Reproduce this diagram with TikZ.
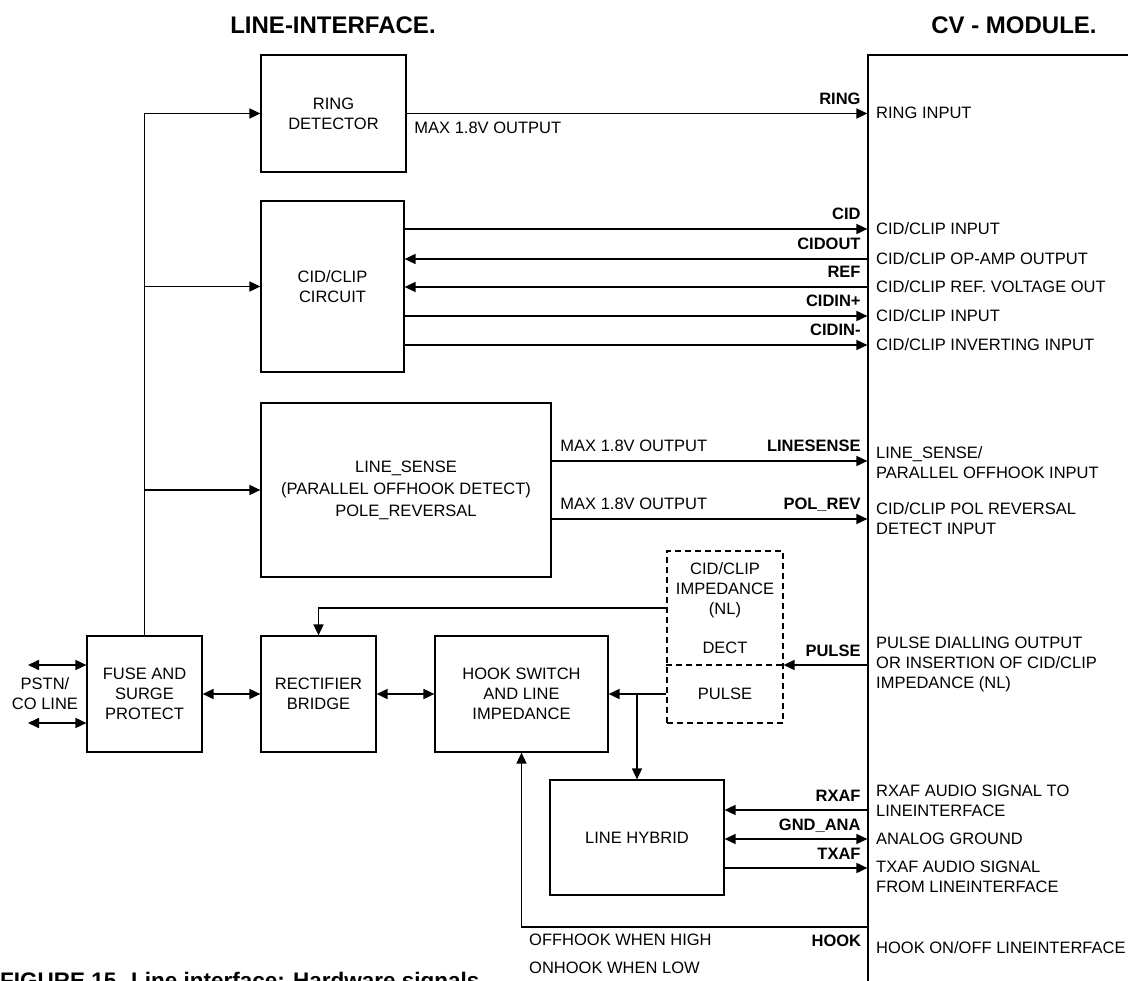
\documentclass[tikz,border=0pt]{standalone}
\usepackage{fontspec}
\setmainfont{Liberation Sans}
\usetikzlibrary{arrows.meta}
\newcommand\txtsz{\fontsize{16.5}{20}\selectfont}

\begin{document}
\begin{tikzpicture}[x=1pt, y=-1pt, font=\txtsz,
  >={Triangle[length=11pt,width=10pt]},
  box/.style={draw, line width=1.2pt, align=center, inner sep=0pt},
  dbox/.style={draw, line width=1.2pt, dash pattern=on 6pt off 4pt},
  wire/.style={line width=1.7pt},
  sig/.style={font=\txtsz\bfseries, anchor=base east, inner sep=0pt, xshift=-6pt, yshift=9pt},
  note/.style={anchor=west, align=left, inner sep=0pt},
  title/.style={font=\fontsize{24}{28}\selectfont\bfseries}]
  \useasboundingbox (0,0) rectangle (1128,981);

  \node[title] (tli) at (333,25) {LINE-INTERFACE.};
  \node[title] (tcv) at (1014,25) {CV - MODULE.};

  \node[box, minimum width=272pt, minimum height=940pt] (cv) at (1004,525) {};

  \node[box, minimum width=145pt, minimum height=117pt] (ring) at (333.5,113.5) {RING\\DETECTOR};
  \node[box, minimum width=143pt, minimum height=171pt] (cid) at (332.5,286.5) {CID/CLIP\\CIRCUIT};
  \node[box, minimum width=290pt, minimum height=174pt, font=\fontsize{16.5}{22}\selectfont] (ls) at (406,490) {LINE\_SENSE\\(PARALLEL OFFHOOK DETECT)\\POLE\_REVERSAL};
  \node[box, minimum width=115pt, minimum height=116pt] (fuse) at (144.5,694) {FUSE AND\\SURGE\\PROTECT};
  \node[box, minimum width=115pt, minimum height=116pt] (rect) at (318.5,694) {RECTIFIER\\BRIDGE};
  \node[box, minimum width=173pt, minimum height=116pt] (hook) at (521.5,694) {HOOK SWITCH\\AND LINE\\IMPEDANCE};
  \node[box, minimum width=174pt, minimum height=115pt] (hyb) at (637,837.5) {LINE HYBRID};

  \node[dbox, minimum width=116pt, minimum height=172pt] (imp) at (725,637) {};
  \node[align=center, inner sep=0pt] (dect) at (725,608) {CID/CLIP\\IMPEDANCE\\(NL)\\[19pt]DECT};
  \node[inner sep=0pt] (pls) at (725,694) {PULSE};
  \coordinate (div) at (725,665);
  \draw[dbox] (imp.west |- div) -- (imp.east |- div);

  \node[align=center, inner sep=0pt] (pstn) at (45,694) {PSTN/\\CO LINE};
  \coordinate (p1) at (28,665);
  \coordinate (p2) at (28,723);
  \coordinate (hk) at (868,927);

  % feed from the protection
  \draw[wire,->] (fuse.north) |- (ring.west);
  \draw[wire,->] (fuse.north |- cid.west) -- (cid.west);
  \draw[wire,->] (fuse.north |- ls.west) -- (ls.west);

  \draw[wire,<->] (p1) -- (fuse.west |- p1);
  \draw[wire,<->] (p2) -- (fuse.west |- p2);
  \draw[wire,<->] (fuse.east) -- (rect.west);
  \draw[wire,<->] (rect.east) -- (hook.west);

  % signals to the module
  \draw[wire,->] (ring.east) -- (ring.east -| cv.west) node[sig] {RING}
    node[pos=0, anchor=base west, inner sep=0pt, xshift=7pt, yshift=-20pt] {MAX 1.8V OUTPUT};
  \draw[wire,->] (cid.east |- 0,229) -- (cv.west |- 0,229) node[sig] {CID};
  \draw[wire,<-] (cid.east |- 0,259) -- (cv.west |- 0,259) node[sig] {CIDOUT};
  \draw[wire,<-] (cid.east |- 0,287) -- (cv.west |- 0,287) node[sig] {REF};
  \draw[wire,->] (cid.east |- 0,316) -- (cv.west |- 0,316) node[sig] {CIDIN+};
  \draw[wire,->] (cid.east |- 0,345) -- (cv.west |- 0,345) node[sig] {CIDIN-};
  \draw[wire,->] (ls.east |- 0,461) -- (cv.west |- 0,461) node[sig] {LINESENSE}
    node[pos=0, anchor=base west, inner sep=0pt, xshift=8pt, yshift=9pt] {MAX 1.8V OUTPUT};
  \draw[wire,->] (ls.east |- 0,519) -- (cv.west |- 0,519) node[sig] {POL\_REV}
    node[pos=0, anchor=base west, inner sep=0pt, xshift=8pt, yshift=9pt] {MAX 1.8V OUTPUT};
  \draw[wire,<-] (imp.east |- div) -- (cv.west |- div) node[sig] {PULSE};
  \draw[wire,->] (imp.west |- dect) -| (rect.north);
  \draw[wire,->] (imp.west |- hook.east) -- (hook.east);
  \draw[wire,->] (hyb.north |- hook.east) -- (hyb.north);
  \draw[wire,<-] (hyb.east |- 0,810) -- (cv.west |- 0,810) node[sig] {RXAF};
  \draw[wire,<->] (hyb.east |- 0,839) -- (cv.west |- 0,839) node[sig] {GND\_ANA};
  \draw[wire,->] (hyb.east |- 0,868) -- (cv.west |- 0,868) node[sig] {TXAF};
  \draw[wire,->] (hk) -| (hook.south)
    node[pos=0, anchor=base east, inner sep=0pt, xshift=-6pt, yshift=-19pt, font=\txtsz\bfseries] {HOOK};

  \node[note] (offon) at (529,954) {OFFHOOK WHEN HIGH\\[8pt]ONHOOK WHEN LOW};

  % texts of the module
  \node[note] (n1) at (876,113) {RING INPUT};
  \node[note] (n2) at (876,229) {CID/CLIP INPUT};
  \node[note] (n3) at (876,259) {CID/CLIP OP-AMP OUTPUT};
  \node[note] (n4) at (876,287) {CID/CLIP REF. VOLTAGE OUT};
  \node[note] (n5) at (876,316) {CID/CLIP INPUT};
  \node[note] (n6) at (876,345) {CID/CLIP INVERTING INPUT};
  \node[note] (n7) at (876,463) {LINE\_SENSE/\\PARALLEL OFFHOOK INPUT};
  \node[note] (n8) at (876,519) {CID/CLIP POL REVERSAL\\DETECT INPUT};
  \node[note] (n9) at (876,664) {PULSE DIALLING OUTPUT\\OR INSERTION OF CID/CLIP\\IMPEDANCE (NL)};
  \node[note] (n10) at (876,801) {RXAF AUDIO SIGNAL TO\\LINEINTERFACE};
  \node[note] (n11) at (876,839) {ANALOG GROUND};
  \node[note] (n12) at (876,877) {TXAF AUDIO SIGNAL\\FROM LINEINTERFACE};
  \node[note] (n13) at (876,948) {HOOK ON/OFF LINEINTERFACE};

  \node[anchor=base west, inner sep=0pt, font=\fontsize{22.5}{27}\selectfont\bfseries] (cap) at (0,988) {FIGURE 15. Line interface: Hardware signals};
\end{tikzpicture}
\end{document}
